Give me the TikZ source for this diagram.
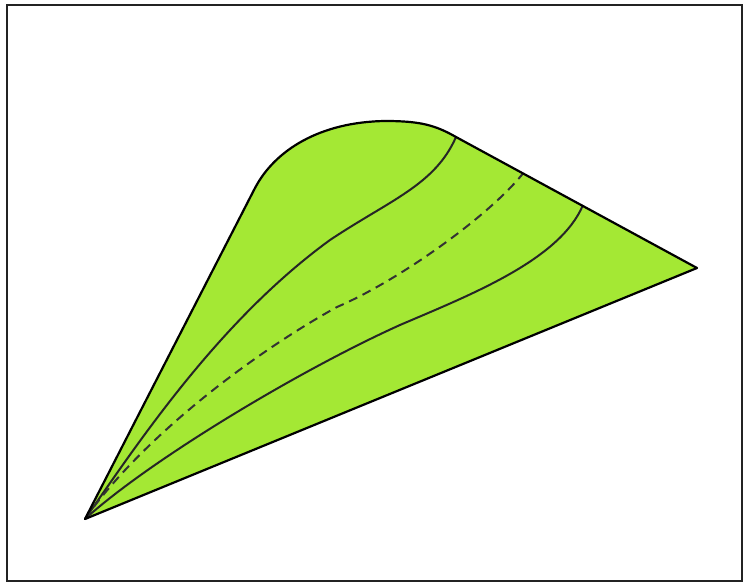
\documentclass[tikz,border=0pt]{standalone}
\definecolor{leaf}{RGB}{164,232,52}
\definecolor{framegray}{RGB}{35,35,35}
\begin{document}
\begin{tikzpicture}[x=1pt,y=-1pt,
  outline/.style={draw=black,line width=2.2pt,line join=round},
  vein/.style={draw=black!85,line width=2pt},
  midvein/.style={draw=black!80,line width=2pt,dash pattern=on 9pt off 6pt}]
\useasboundingbox (0,0) rectangle (745,584);
\fill[white] (0,0) rectangle (745,584);
\draw[framegray,line width=2.6pt] (7,5) rectangle (742,581);
% key points
\coordinate (A) at (85,519);
\coordinate (L) at (255,188);
\coordinate (T) at (385,121);
\coordinate (S) at (456,137);
\coordinate (R) at (697,268);
\coordinate (D) at (523,173.4);
\coordinate (E) at (583,205);
% leaf body
\fill[leaf] (A) -- (L) .. controls (275,150) and (320,122) .. (T)
  .. controls (420,121) and (435,125) .. (S) -- (R) -- cycle;
% veins
\draw[vein] (A) .. controls (140,440) and (220,320) .. (330,240)
  .. controls (390,200) and (435,185) .. (S);
\draw[midvein] (A) .. controls (140,440) and (250,355) .. (337,307)
  .. controls (400,280) and (490,215) .. (D);
\draw[vein] (A) .. controls (150,460) and (300,370) .. (400,325)
  .. controls (470,295) and (560,260) .. (E);
% outline
\draw[outline] (A) -- (L) .. controls (275,150) and (320,122) .. (T)
  .. controls (420,121) and (435,125) .. (S) -- (R) -- cycle;
\end{tikzpicture}
\end{document}
